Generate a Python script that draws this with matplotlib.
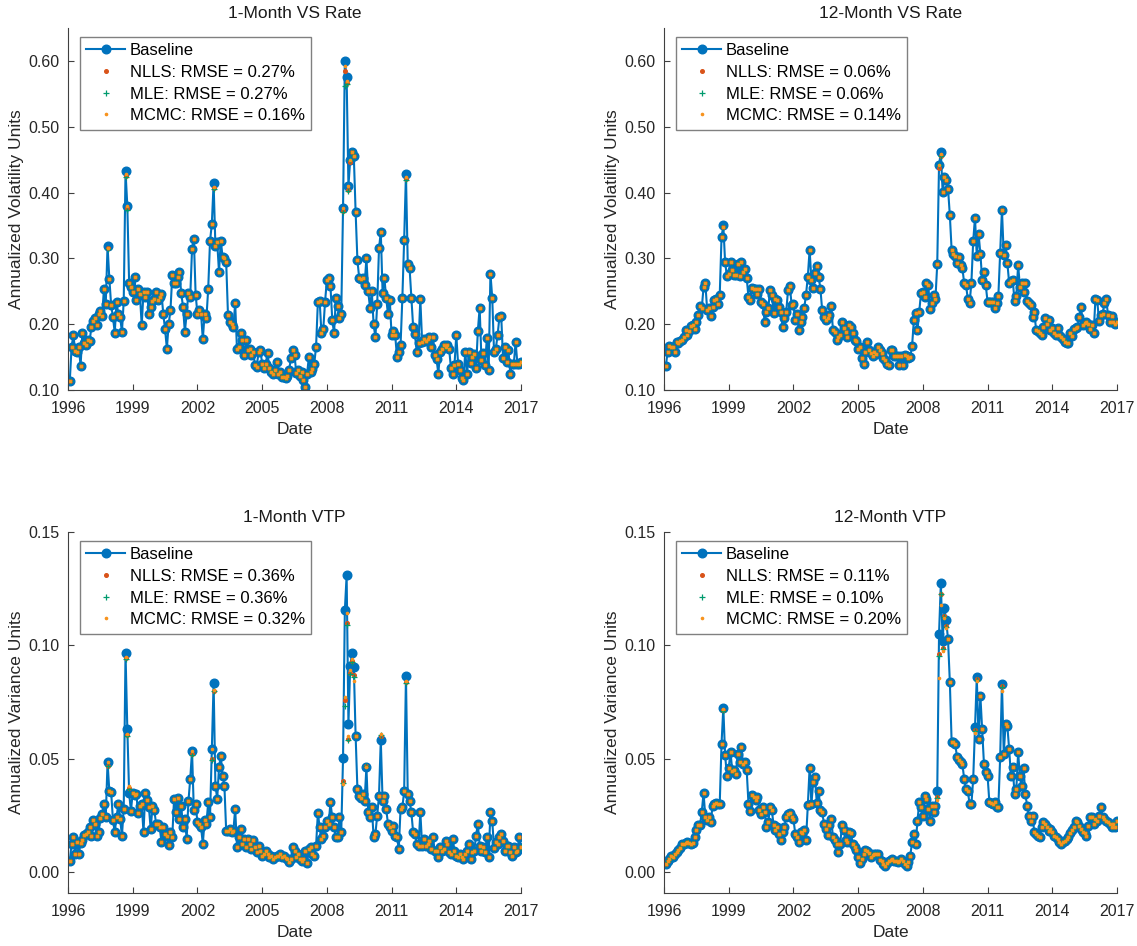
import matplotlib
matplotlib.use('Agg')
import matplotlib.pyplot as plt
import numpy as np

plt.rcParams['font.family'] = ['Liberation Sans', 'DejaVu Sans']
plt.rcParams['font.size'] = 12

# monthly observations Jan 1996 .. Dec 2016
one_m_vs = [
    0.114, 0.166, 0.183, 0.160, 0.158, 0.165, 0.137, 0.187, 0.172, 0.168, 0.176, 0.174,
    0.195, 0.205, 0.210, 0.198, 0.215, 0.220, 0.213, 0.254, 0.231, 0.319, 0.269, 0.229,
    0.211, 0.187, 0.234, 0.215, 0.211, 0.188, 0.235, 0.432, 0.380, 0.263, 0.257, 0.249,
    0.272, 0.236, 0.254, 0.246, 0.198, 0.249, 0.241, 0.249, 0.216, 0.226, 0.235, 0.239,
    0.249, 0.236, 0.241, 0.246, 0.216, 0.192, 0.163, 0.200, 0.221, 0.274, 0.262, 0.262,
    0.272, 0.279, 0.247, 0.226, 0.188, 0.216, 0.248, 0.242, 0.314, 0.330, 0.245, 0.216,
    0.221, 0.216, 0.177, 0.216, 0.209, 0.254, 0.326, 0.352, 0.414, 0.319, 0.325, 0.279,
    0.327, 0.302, 0.300, 0.294, 0.214, 0.204, 0.201, 0.196, 0.232, 0.162, 0.166, 0.186,
    0.176, 0.153, 0.176, 0.161, 0.163, 0.153, 0.158, 0.138, 0.135, 0.158, 0.161, 0.140,
    0.133, 0.140, 0.156, 0.133, 0.128, 0.125, 0.130, 0.143, 0.125, 0.128, 0.120, 0.120,
    0.118, 0.122, 0.130, 0.148, 0.161, 0.153, 0.126, 0.130, 0.122, 0.128, 0.115, 0.105,
    0.125, 0.150, 0.128, 0.132, 0.140, 0.166, 0.234, 0.235, 0.186, 0.192, 0.234, 0.267,
    0.270, 0.258, 0.207, 0.186, 0.240, 0.227, 0.210, 0.215, 0.376, 0.600, 0.575, 0.410,
    0.450, 0.462, 0.455, 0.370, 0.297, 0.270, 0.268, 0.270, 0.260, 0.300, 0.250, 0.225,
    0.250, 0.200, 0.180, 0.230, 0.315, 0.340, 0.248, 0.270, 0.240, 0.215, 0.237, 0.184,
    0.190, 0.184, 0.150, 0.157, 0.168, 0.240, 0.328, 0.428, 0.292, 0.286, 0.240, 0.196,
    0.185, 0.157, 0.172, 0.238, 0.173, 0.177, 0.175, 0.177, 0.181, 0.166, 0.181, 0.153,
    0.147, 0.125, 0.157, 0.162, 0.168, 0.165, 0.168, 0.163, 0.134, 0.125, 0.138, 0.184,
    0.140, 0.130, 0.118, 0.115, 0.158, 0.125, 0.158, 0.141, 0.150, 0.155, 0.133, 0.190,
    0.225, 0.146, 0.156, 0.138, 0.179, 0.130, 0.277, 0.240, 0.158, 0.163, 0.184, 0.211,
    0.212, 0.148, 0.166, 0.143, 0.161, 0.125, 0.140, 0.140, 0.173, 0.140, 0.140, 0.142,
]

twelve_m_vs = [
    0.136, 0.158, 0.167, 0.165, 0.166, 0.157, 0.173, 0.172, 0.174, 0.176, 0.181, 0.191,
    0.183, 0.190, 0.197, 0.198, 0.192, 0.204, 0.214, 0.227, 0.224, 0.256, 0.262, 0.222,
    0.224, 0.213, 0.226, 0.236, 0.239, 0.230, 0.244, 0.332, 0.350, 0.294, 0.273, 0.277,
    0.295, 0.282, 0.274, 0.274, 0.292, 0.273, 0.295, 0.279, 0.284, 0.270, 0.241, 0.236,
    0.255, 0.254, 0.253, 0.246, 0.254, 0.234, 0.230, 0.203, 0.218, 0.224, 0.252, 0.244,
    0.217, 0.239, 0.236, 0.226, 0.219, 0.196, 0.210, 0.219, 0.252, 0.258, 0.229, 0.230,
    0.206, 0.215, 0.191, 0.204, 0.211, 0.224, 0.245, 0.272, 0.313, 0.267, 0.255, 0.278,
    0.288, 0.272, 0.254, 0.221, 0.211, 0.206, 0.209, 0.214, 0.228, 0.191, 0.188, 0.176,
    0.181, 0.183, 0.204, 0.194, 0.188, 0.181, 0.198, 0.195, 0.186, 0.176, 0.175, 0.163,
    0.165, 0.148, 0.140, 0.158, 0.173, 0.161, 0.156, 0.151, 0.158, 0.155, 0.165, 0.161,
    0.156, 0.148, 0.145, 0.139, 0.138, 0.161, 0.161, 0.152, 0.151, 0.151, 0.138, 0.151,
    0.138, 0.153, 0.151, 0.148, 0.150, 0.167, 0.206, 0.217, 0.191, 0.219, 0.248, 0.249,
    0.242, 0.262, 0.260, 0.223, 0.232, 0.244, 0.239, 0.291, 0.442, 0.461, 0.401, 0.423,
    0.419, 0.406, 0.366, 0.313, 0.307, 0.303, 0.293, 0.302, 0.290, 0.285, 0.262, 0.260,
    0.238, 0.232, 0.263, 0.326, 0.362, 0.303, 0.337, 0.307, 0.267, 0.280, 0.259, 0.234,
    0.234, 0.233, 0.234, 0.224, 0.232, 0.243, 0.308, 0.374, 0.305, 0.320, 0.293, 0.263,
    0.266, 0.267, 0.235, 0.243, 0.290, 0.257, 0.263, 0.249, 0.263, 0.235, 0.232, 0.229,
    0.211, 0.219, 0.191, 0.189, 0.186, 0.184, 0.196, 0.210, 0.201, 0.206, 0.191, 0.194,
    0.186, 0.184, 0.194, 0.184, 0.181, 0.177, 0.173, 0.172, 0.171, 0.186, 0.182, 0.192,
    0.194, 0.196, 0.211, 0.226, 0.199, 0.202, 0.204, 0.201, 0.192, 0.199, 0.186, 0.238,
    0.236, 0.205, 0.214, 0.216, 0.232, 0.238, 0.214, 0.204, 0.212, 0.204, 0.200, 0.204,
]

one_m_vtp = [
    0.0051, 0.0125, 0.0154, 0.0081, 0.0132, 0.0080, 0.0128, 0.0140, 0.0162, 0.0169, 0.0176, 0.0199,
    0.0160, 0.0228, 0.0213, 0.0160, 0.0176, 0.0240, 0.0257, 0.0300, 0.0243, 0.0485, 0.0357, 0.0353,
    0.0230, 0.0176, 0.0243, 0.0300, 0.0235, 0.0160, 0.0280, 0.0966, 0.0632, 0.0350, 0.0270, 0.0350,
    0.0338, 0.0346, 0.0260, 0.0290, 0.0300, 0.0176, 0.0350, 0.0320, 0.0287, 0.0190, 0.0290, 0.0275,
    0.0213, 0.0213, 0.0199, 0.0132, 0.0199, 0.0169, 0.0160, 0.0118, 0.0176, 0.0154, 0.0324, 0.0265,
    0.0328, 0.0235, 0.0290, 0.0199, 0.0235, 0.0147, 0.0313, 0.0412, 0.0534, 0.0272, 0.0300, 0.0220,
    0.0213, 0.0199, 0.0125, 0.0228, 0.0213, 0.0309, 0.0243, 0.0544, 0.0834, 0.0382, 0.0324, 0.0463,
    0.0510, 0.0426, 0.0382, 0.0180, 0.0183, 0.0190, 0.0176, 0.0183, 0.0280, 0.0110, 0.0154, 0.0190,
    0.0125, 0.0147, 0.0110, 0.0147, 0.0125, 0.0103, 0.0140, 0.0110, 0.0088, 0.0117, 0.0095, 0.0073,
    0.0081, 0.0095, 0.0081, 0.0066, 0.0073, 0.0059, 0.0066, 0.0073, 0.0073, 0.0081, 0.0066, 0.0073,
    0.0062, 0.0059, 0.0044, 0.0060, 0.0110, 0.0095, 0.0066, 0.0081, 0.0059, 0.0051, 0.0059, 0.0095,
    0.0041, 0.0103, 0.0110, 0.0081, 0.0073, 0.0117, 0.0261, 0.0198, 0.0147, 0.0161, 0.0198, 0.0227,
    0.0213, 0.0308, 0.0242, 0.0198, 0.0154, 0.0154, 0.0242, 0.0176, 0.0503, 0.1154, 0.1309, 0.0652,
    0.0909, 0.0967, 0.0904, 0.0601, 0.0366, 0.0337, 0.0327, 0.0344, 0.0315, 0.0462, 0.0264, 0.0242,
    0.0286, 0.0157, 0.0169, 0.0249, 0.0337, 0.0583, 0.0315, 0.0337, 0.0279, 0.0213, 0.0198, 0.0183,
    0.0205, 0.0161, 0.0154, 0.0103, 0.0279, 0.0286, 0.0356, 0.0865, 0.0344, 0.0315, 0.0264, 0.0176,
    0.0169, 0.0125, 0.0117, 0.0264, 0.0117, 0.0147, 0.0117, 0.0125, 0.0139, 0.0103, 0.0154, 0.0095,
    0.0095, 0.0066, 0.0110, 0.0095, 0.0103, 0.0139, 0.0125, 0.0088, 0.0081, 0.0147, 0.0095, 0.0073,
    0.0066, 0.0081, 0.0066, 0.0059, 0.0081, 0.0095, 0.0125, 0.0059, 0.0088, 0.0095, 0.0161, 0.0213,
    0.0117, 0.0095, 0.0110, 0.0088, 0.0154, 0.0066, 0.0264, 0.0227, 0.0107, 0.0132, 0.0125, 0.0154,
    0.0169, 0.0139, 0.0095, 0.0117, 0.0117, 0.0088, 0.0073, 0.0110, 0.0088, 0.0095, 0.0157, 0.0110,
]

twelve_m_vtp = [
    0.0034, 0.0049, 0.0059, 0.0069, 0.0066, 0.0081, 0.0091, 0.0096, 0.0107, 0.0122, 0.0125, 0.0128,
    0.0131, 0.0128, 0.0125, 0.0128, 0.0154, 0.0184, 0.0206, 0.0206, 0.0265, 0.0349, 0.0243, 0.0228,
    0.0243, 0.0221, 0.0290, 0.0301, 0.0304, 0.0299, 0.0301, 0.0566, 0.0725, 0.0515, 0.0426, 0.0460,
    0.0529, 0.0446, 0.0449, 0.0434, 0.0522, 0.0485, 0.0554, 0.0478, 0.0485, 0.0449, 0.0301, 0.0269,
    0.0338, 0.0331, 0.0319, 0.0331, 0.0275, 0.0257, 0.0287, 0.0265, 0.0199, 0.0221, 0.0287, 0.0272,
    0.0206, 0.0184, 0.0199, 0.0169, 0.0143, 0.0176, 0.0199, 0.0243, 0.0257, 0.0260, 0.0243, 0.0235,
    0.0169, 0.0154, 0.0132, 0.0176, 0.0172, 0.0184, 0.0143, 0.0294, 0.0460, 0.0301, 0.0397, 0.0419,
    0.0304, 0.0360, 0.0275, 0.0265, 0.0213, 0.0191, 0.0162, 0.0206, 0.0235, 0.0154, 0.0143, 0.0125,
    0.0088, 0.0122, 0.0206, 0.0187, 0.0140, 0.0132, 0.0176, 0.0172, 0.0125, 0.0110, 0.0096, 0.0066,
    0.0040, 0.0059, 0.0081, 0.0096, 0.0093, 0.0084, 0.0066, 0.0074, 0.0081, 0.0081, 0.0081, 0.0054,
    0.0049, 0.0034, 0.0029, 0.0040, 0.0051, 0.0054, 0.0059, 0.0051, 0.0051, 0.0044, 0.0051, 0.0059,
    0.0051, 0.0037, 0.0029, 0.0044, 0.0073, 0.0132, 0.0166, 0.0125, 0.0227, 0.0308, 0.0286, 0.0249,
    0.0337, 0.0322, 0.0279, 0.0227, 0.0293, 0.0264, 0.0293, 0.0356, 0.1051, 0.1275, 0.1019, 0.1165,
    0.1110, 0.1026, 0.0840, 0.0576, 0.0572, 0.0567, 0.0506, 0.0494, 0.0484, 0.0476, 0.0410, 0.0366,
    0.0359, 0.0300, 0.0300, 0.0410, 0.0638, 0.0860, 0.0586, 0.0777, 0.0630, 0.0476, 0.0440, 0.0425,
    0.0308, 0.0303, 0.0300, 0.0308, 0.0289, 0.0289, 0.0506, 0.0831, 0.0523, 0.0652, 0.0645, 0.0542,
    0.0425, 0.0462, 0.0344, 0.0366, 0.0528, 0.0425, 0.0381, 0.0459, 0.0344, 0.0293, 0.0249, 0.0227,
    0.0249, 0.0176, 0.0169, 0.0161, 0.0154, 0.0198, 0.0220, 0.0213, 0.0198, 0.0183, 0.0191, 0.0176,
    0.0161, 0.0154, 0.0147, 0.0132, 0.0125, 0.0132, 0.0139, 0.0147, 0.0157, 0.0172, 0.0186, 0.0198,
    0.0227, 0.0220, 0.0205, 0.0191, 0.0176, 0.0172, 0.0161, 0.0205, 0.0245, 0.0242, 0.0213, 0.0235,
    0.0227, 0.0249, 0.0289, 0.0242, 0.0235, 0.0227, 0.0220, 0.0213, 0.0198, 0.0213, 0.0198, 0.0227,
]

# model fits: same as baseline except where they visibly miss (month index -> value)
nlls_1m_vs = {21: 0.315, 31: 0.425, 32: 0.376, 80: 0.407, 152: 0.372, 153: 0.585, 154: 0.566, 155: 0.404, 156: 0.446, 187: 0.421}
mle_1m_vs = {21: 0.314, 31: 0.423, 32: 0.374, 80: 0.405, 152: 0.370, 153: 0.562, 154: 0.565, 155: 0.403, 187: 0.419}
mcmc_1m_vs = {21: 0.316, 31: 0.428, 80: 0.409, 153: 0.592, 154: 0.570, 187: 0.424}

nlls_12m_vs = {32: 0.348, 152: 0.438, 153: 0.456}
mle_12m_vs = {32: 0.347, 153: 0.455}
mcmc_12m_vs = {32: 0.347, 153: 0.458}

nlls_1m_vtp = {21: 0.0470, 31: 0.0945, 32: 0.0605, 33: 0.0370, 68: 0.0520, 79: 0.0500, 80: 0.0800,
               152: 0.0400, 153: 0.0760, 154: 0.1100, 155: 0.0585, 156: 0.0880, 157: 0.0930,
               158: 0.0870, 165: 0.0470, 173: 0.0600, 187: 0.0840}
mle_1m_vtp = {21: 0.0468, 31: 0.0940, 32: 0.0600, 33: 0.0365, 68: 0.0518, 79: 0.0496, 80: 0.0798,
              152: 0.0395, 153: 0.0733, 154: 0.1092, 155: 0.0583, 156: 0.0875, 157: 0.0925,
              158: 0.0860, 165: 0.0468, 173: 0.0605, 187: 0.0836}
mcmc_1m_vtp = {31: 0.0950, 32: 0.0610, 33: 0.0380, 80: 0.0805, 152: 0.0390, 153: 0.0773,
               154: 0.1143, 155: 0.0600, 156: 0.0890, 157: 0.0940, 158: 0.0843, 173: 0.0610, 187: 0.0845}

nlls_12m_vtp = {32: 0.0715, 151: 0.0330, 152: 0.0960, 153: 0.1228, 154: 0.0990, 155: 0.1130,
                156: 0.1085, 172: 0.0625, 173: 0.0850, 187: 0.0820}
mle_12m_vtp = {32: 0.0712, 151: 0.0328, 152: 0.0953, 153: 0.1225, 154: 0.0985, 155: 0.1125,
               156: 0.1080, 172: 0.0622, 173: 0.0848, 187: 0.0818}
mcmc_12m_vtp = {32: 0.0718, 151: 0.0320, 152: 0.0858, 153: 0.1180, 154: 0.0975, 155: 0.1120,
                156: 0.1075, 172: 0.0615, 173: 0.0845, 187: 0.0800}

titles = ['1-Month VS Rate', '12-Month VS Rate', '1-Month VTP', '12-Month VTP']
ylabels = ['Annualized Volatility Units', 'Annualized Volatility Units',
           'Annualized Variance Units', 'Annualized Variance Units']
rmse_nlls = ['0.27%', '0.06%', '0.36%', '0.11%']
rmse_mle = ['0.27%', '0.06%', '0.36%', '0.10%']
rmse_mcmc = ['0.16%', '0.14%', '0.32%', '0.20%']

C_BASE = '#0072BD'
C_NLLS = '#D95319'
C_MLE = '#009B6E'
C_MCMC = '#F7931E'
AX_COL = '#404040'
TXT = '#262626'


def fitted(base, adj):
    out = list(base)
    for k, v in adj.items():
        out[k] = v
    return out


def draw_panel(ax, base, nlls, mle, mcmc, k, ylim, yticks):
    x = 1996 + (np.arange(len(base)) + 1) / 12.0
    ax.plot(x, base, '-o', color=C_BASE, lw=1.5, ms=6.2, mec=C_BASE, mfc=C_BASE,
            label='Baseline')
    ax.plot(x, fitted(base, nlls), 'o', ls='none', color=C_NLLS, ms=2.6,
            label='NLLS: RMSE = ' + rmse_nlls[k])
    ax.plot(x, fitted(base, mle), '+', ls='none', color=C_MLE, ms=4.2, mew=0.9,
            label='MLE: RMSE = ' + rmse_mle[k])
    ax.plot(x, fitted(base, mcmc), 'o', ls='none', color=C_MCMC, ms=1.6,
            label='MCMC: RMSE = ' + rmse_mcmc[k])
    ax.set_xlim(1996, 2017)
    ax.set_ylim(*ylim)
    ax.set_xticks(range(1996, 2018, 3))
    ax.set_yticks(yticks)
    ax.set_yticklabels(['%.2f' % t for t in yticks])
    ax.set_title(titles[k], fontsize=12.5, pad=7, color='#1a1a1a')
    ax.set_xlabel('Date', fontsize=12.5, labelpad=4, color=TXT)
    ax.set_ylabel(ylabels[k], fontsize=12.5, labelpad=3, color=TXT)
    for s in ['top', 'right']:
        ax.spines[s].set_visible(False)
    for s in ['left', 'bottom']:
        ax.spines[s].set_color(AX_COL)
        ax.spines[s].set_linewidth(0.8)
    ax.tick_params(direction='in', length=4, width=0.8, color=AX_COL,
                   labelsize=11.5, labelcolor=TXT)
    ax.tick_params(axis='x', pad=8)
    ax.tick_params(axis='y', pad=6)
    leg = ax.legend(loc='upper left', bbox_to_anchor=(12 / 453.0, 1 - 9 / 362.0),
                    borderaxespad=0, fontsize=12, frameon=True, fancybox=False,
                    edgecolor='#808080', framealpha=1,
                    handlelength=2.3, handletextpad=0.3, labelspacing=0.4,
                    borderpad=0.38)
    leg.get_frame().set_linewidth(1.0)


W, H = 1137.0, 946.0
fig = plt.figure(figsize=(11.37, 9.46), dpi=100)
ax1 = fig.add_axes([68 / W, (H - 390) / H, 453 / W, 362 / H])
ax2 = fig.add_axes([664 / W, (H - 390) / H, 453 / W, 362 / H])
ax3 = fig.add_axes([68 / W, (H - 893) / H, 453 / W, 361 / H])
ax4 = fig.add_axes([664 / W, (H - 893) / H, 453 / W, 361 / H])

vs_ticks = [0.10, 0.20, 0.30, 0.40, 0.50, 0.60]
vtp_ticks = [0.00, 0.05, 0.10, 0.15]
draw_panel(ax1, one_m_vs, nlls_1m_vs, mle_1m_vs, mcmc_1m_vs, 0, (0.10, 0.65), vs_ticks)
draw_panel(ax2, twelve_m_vs, nlls_12m_vs, mle_12m_vs, mcmc_12m_vs, 1, (0.10, 0.65), vs_ticks)
draw_panel(ax3, one_m_vtp, nlls_1m_vtp, mle_1m_vtp, mcmc_1m_vtp, 2, (-0.0092, 0.15), vtp_ticks)
draw_panel(ax4, twelve_m_vtp, nlls_12m_vtp, mle_12m_vtp, mcmc_12m_vtp, 3, (-0.0092, 0.15), vtp_ticks)

fig.savefig('out.png', dpi=100)
